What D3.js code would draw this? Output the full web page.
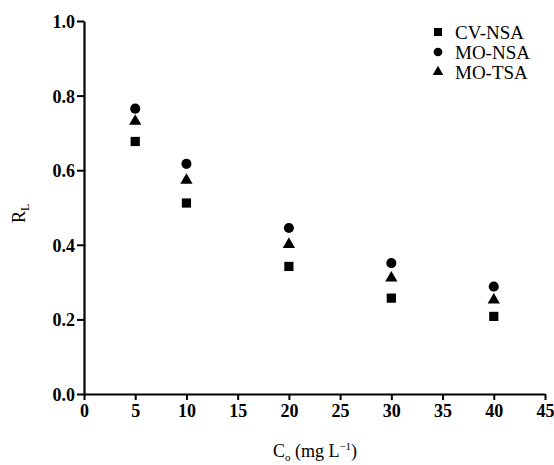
<!DOCTYPE html>
<html>
<head>
<meta charset="utf-8">
<script src="https://cdn.jsdelivr.net/npm/d3@7"></script>
<style>
  body { margin: 0; background: #fff; }
  svg text { font-family: "Liberation Serif", "Times New Roman", serif; fill: #000; }
</style>
</head>
<body>
<svg id="chart" width="554" height="465"></svg>
<script>
// Initial dye concentration (mg/L)
const concentrations = [5, 10, 20, 30, 40];
// Separation factor R_L for each adsorbent system
const cvNsa = [0.677, 0.512, 0.342, 0.257, 0.208];
const moNsa = [0.765, 0.617, 0.445, 0.351, 0.288];
const moTsa = [0.731, 0.573, 0.401, 0.311, 0.252];
const seriesNames = ["CV-NSA", "MO-NSA", "MO-TSA"];
const xTicks = [0, 5, 10, 15, 20, 25, 30, 35, 40, 45];
const yTicks = [0.0, 0.2, 0.4, 0.6, 0.8, 1.0];

const svg = d3.select("#chart");
const x = d3.scaleLinear().domain([0, 45]).range([84, 545]);
const y = d3.scaleLinear().domain([0, 1]).range([394, 21]);

const series = [
  { name: seriesNames[0], values: cvNsa, symbol: d3.symbolSquare, size: 85 },
  { name: seriesNames[1], values: moNsa, symbol: d3.symbolCircle, size: 80 },
  { name: seriesNames[2], values: moTsa, symbol: d3.symbolTriangle, size: 65 }
];

// Axes
const xAxis = svg.append("g")
  .attr("transform", `translate(0,${y(0)})`)
  .call(d3.axisBottom(x).tickValues(xTicks).tickFormat(d3.format("d")).tickSize(6).tickSizeOuter(0));
const yAxis = svg.append("g")
  .attr("transform", `translate(${x(0)},0)`)
  .call(d3.axisLeft(y).tickValues(yTicks).tickFormat(d3.format(".1f")).tickSize(7).tickSizeOuter(0));

[xAxis, yAxis].forEach(g => {
  g.select(".domain").attr("stroke", "#000").attr("stroke-width", 2.2);
  g.selectAll(".tick line").attr("stroke", "#000").attr("stroke-width", 2);
  g.selectAll(".tick text")
    .style("font-family", "'Liberation Serif', 'Times New Roman', serif")
    .style("font-size", "18px").style("font-weight", "bold").attr("fill", "#000");
});
xAxis.selectAll(".tick text").attr("y", 9).attr("dy", "0.8em");
yAxis.selectAll(".tick text").attr("x", -9).attr("dy", "0.36em");

// Data markers
series.forEach(s => {
  svg.append("g").selectAll("path")
    .data(concentrations.map((c, i) => [c, s.values[i]]))
    .join("path")
    .attr("d", d3.symbol().type(s.symbol).size(s.size))
    .attr("transform", d => `translate(${x(d[0])},${y(d[1])})`)
    .attr("fill", "#000");
});

// Legend
const legend = svg.append("g");
series.forEach((s, i) => {
  const ly = 32 + i * 20;
  legend.append("path")
    .attr("d", d3.symbol().type(s.symbol).size(s.size * 0.75))
    .attr("transform", `translate(438,${ly})`)
    .attr("fill", "#000");
  legend.append("text")
    .attr("x", 455).attr("y", ly)
    .attr("dy", "0.35em")
    .style("font-size", "19px")
    .text(s.name);
});

// Axis titles
const yTitle = svg.append("text")
  .attr("transform", "translate(25,223) rotate(-90)")
  .style("font-size", "18px");
yTitle.append("tspan").text("R");
yTitle.append("tspan").style("font-size", "12px").attr("dy", 4).text("L");

const xTitle = svg.append("text")
  .attr("x", 315).attr("y", 457)
  .attr("text-anchor", "middle")
  .style("font-size", "18px");
xTitle.append("tspan").text("C");
xTitle.append("tspan").style("font-size", "11px").attr("dy", 4).text("o");
xTitle.append("tspan").attr("dy", -4).text(" (mg L");
xTitle.append("tspan").style("font-size", "11px").attr("dy", -7).text("\u22121");
xTitle.append("tspan").attr("dy", 7).text(")");
</script>
</body>
</html>
